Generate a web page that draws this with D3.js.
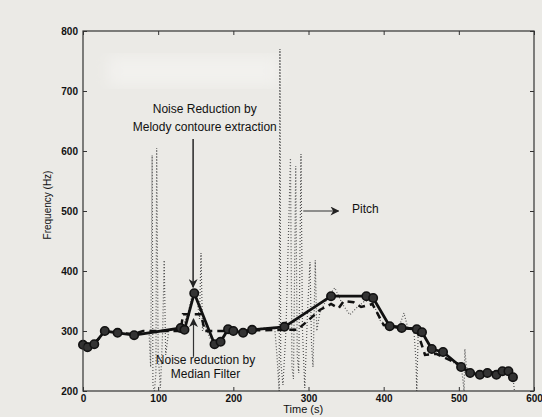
<!DOCTYPE html>
<html>
  <head>
    <meta charset="utf-8">
    <style>
      body { margin: 0; background: #ebeae6; }
      text { font-family: "Liberation Sans", Arial, sans-serif; fill: #111; }
      .tick text { font-size: 10px; }
      .tick line { stroke: #333; }
    </style>
    <script src="https://cdnjs.cloudflare.com/ajax/libs/d3/7.8.5/d3.min.js"></script>
  </head>
  <body>
    <svg width="542" height="417" id="SVG"></svg>
    <script>
      // melody contour (solid + markers)
      var melodyT = [0, 6, 15, 29, 46, 68, 130, 135, 148, 175, 183, 193, 200, 213, 225, 268, 330, 377, 386, 408, 424, 444, 451, 464, 479, 503, 515, 528, 538, 550, 558, 566, 572];
      var melodyF = [277, 273, 278, 300, 297, 293, 305, 302, 363, 278, 282, 303, 300, 297, 302, 307, 358, 358, 355, 308, 305, 303, 298, 270, 265, 240, 230, 227, 230, 227, 233, 233, 223];

      // median filter (dashed)
      var medianT = [0, 15, 29, 68, 80, 130, 133, 157, 162, 180, 270, 285, 300, 315, 330, 340, 347, 360, 370, 385, 400, 444, 455, 470, 503, 515, 570];
      var medianF = [278, 279, 298, 295, 300, 300, 328, 328, 300, 300, 302, 302, 318, 335, 345, 338, 350, 348, 340, 345, 310, 303, 260, 262, 243, 232, 230];

      // raw pitch (dotted)
      var pitchT = [0, 6, 15, 29, 46, 68, 80, 88, 90, 92, 93, 95, 97, 98, 100, 103, 106, 108, 110, 114, 125, 132, 140, 145, 148, 152, 155, 157, 159, 162, 170, 175, 183, 193, 200, 213, 225, 240, 255,
                    258, 261, 262, 263, 266, 270, 276, 278, 280, 283, 285, 287, 290, 292, 295, 299, 302, 304, 306, 309, 311, 315, 325, 335, 345, 355, 365, 375, 385, 395, 405, 420, 427, 432, 440, 443, 444, 446, 452, 464, 479, 495, 503, 507, 508, 510, 515, 528, 538, 550, 558, 566, 572, 574];
      var pitchF = [278, 274, 279, 300, 297, 293, 296, 296, 240, 593, 210, 200, 230, 605, 260, 205, 300, 418, 260, 300, 304, 305, 330, 360, 363, 350, 320, 430, 300, 310, 285, 278, 282, 303, 300, 297, 302, 305, 306,
                    260, 200, 770, 250, 210, 300, 588, 240, 220, 575, 260, 230, 595, 300, 205, 340, 415, 280, 240, 418, 300, 330, 355, 372, 345, 327, 340, 350, 350, 318, 308, 305, 330, 306, 305, 250, 200, 300, 298, 270, 265, 245, 245, 200, 270, 240, 230, 227, 230, 227, 233, 233, 223, 200];

      var xTicks = [0, 100, 200, 300, 400, 500, 600];
      var yTicks = [200, 300, 400, 500, 600, 700, 800];

      var svg = d3.select("#SVG");
      var plotLeft = 83, plotRight = 534, plotTop = 31, plotBottom = 391;

      var x = d3.scaleLinear().domain([0, 600]).range([plotLeft, plotRight]);
      var y = d3.scaleLinear().domain([200, 800]).range([plotBottom, plotTop]);

      var defs = svg.append("defs");
      // faint washed-out patch near the top
      defs.append("filter").attr("id", "blur")
          .append("feGaussianBlur").attr("stdDeviation", 7);
      svg.append("rect")
         .attr("x", 108).attr("y", 56).attr("width", 170).attr("height", 30)
         .attr("fill", "#f2f1ee").attr("filter", "url(#blur)");

      defs.append("marker").attr("id", "arr")
          .attr("viewBox", "0 0 10 10").attr("refX", 9).attr("refY", 5)
          .attr("markerWidth", 9).attr("markerHeight", 9).attr("markerUnits", "userSpaceOnUse")
          .attr("orient", "auto")
          .append("path").attr("d", "M0,0 L10,5 L0,10 L3,5 Z").attr("fill", "#222");

      function pairs(ts, fs) {
        return ts.map(function(t, i) { return [t, fs[i]] });
      }
      var line = d3.line().x(function(d) { return x(d[0]) }).y(function(d) { return y(d[1]) });

      // pitch
      svg.append("path")
         .datum(pairs(pitchT, pitchF))
         .attr("d", line)
         .attr("fill", "none")
         .attr("stroke", "#555")
         .attr("stroke-width", 1.2)
         .attr("stroke-dasharray", "1,2");

      // median filter
      svg.append("path")
         .datum(pairs(medianT, medianF))
         .attr("d", line)
         .attr("fill", "none")
         .attr("stroke", "#111")
         .attr("stroke-width", 2.5)
         .attr("stroke-dasharray", "7,5");

      // melody contour
      var melody = pairs(melodyT, melodyF);
      svg.append("path")
         .datum(melody)
         .attr("d", line)
         .attr("fill", "none")
         .attr("stroke", "#111")
         .attr("stroke-width", 2.8);
      svg.selectAll(".dot")
         .data(melody)
         .enter()
         .append("circle")
         .attr("class", "dot")
         .attr("cx", function(d) { return x(d[0]) })
         .attr("cy", function(d) { return y(d[1]) })
         .attr("r", 4.2)
         .attr("fill", "#333")
         .attr("stroke", "#111")
         .attr("stroke-width", 1.6);

      // axes (ticks inside, box)
      svg.append("g").attr("transform", "translate(0," + plotBottom + ")")
         .call(d3.axisBottom(x).tickValues(xTicks).tickSize(-4).tickPadding(4))
         .call(function(g) { g.select(".domain").remove() });
      svg.append("g").attr("transform", "translate(0," + plotTop + ")")
         .call(d3.axisTop(x).tickValues(xTicks).tickSize(-4).tickFormat(""))
         .call(function(g) { g.select(".domain").remove() });
      svg.append("g").attr("transform", "translate(" + plotLeft + ",0)")
         .call(d3.axisLeft(y).tickValues(yTicks).tickSize(-4).tickPadding(5))
         .call(function(g) { g.select(".domain").remove() });
      svg.append("g").attr("transform", "translate(" + plotRight + ",0)")
         .call(d3.axisRight(y).tickValues(yTicks).tickSize(-4).tickFormat(""))
         .call(function(g) { g.select(".domain").remove() });
      svg.selectAll(".tick text").attr("fill", "#111").style("font-weight", "bold");

      svg.append("rect")
         .attr("x", plotLeft).attr("y", plotTop)
         .attr("width", plotRight - plotLeft).attr("height", plotBottom - plotTop)
         .attr("fill", "none").attr("stroke", "#333").attr("stroke-width", 1.2);

      svg.append("text")
         .attr("x", x(293)).attr("y", 413)
         .attr("text-anchor", "middle").attr("font-size", 11)
         .text("Time (s)");
      svg.append("text")
         .attr("transform", "translate(51," + y(510) + ") rotate(-90)")
         .attr("text-anchor", "middle").attr("font-size", 10)
         .text("Frequency (Hz)");

      // annotations
      svg.append("text").attr("x", x(162)).attr("y", y(663))
         .attr("text-anchor", "middle").attr("font-size", 12).text("Noise Reduction by");
      svg.append("text").attr("x", x(162)).attr("y", y(633))
         .attr("text-anchor", "middle").attr("font-size", 12).text("Melody contoure extraction");
      svg.append("line")
         .attr("x1", x(146.5)).attr("y1", y(620))
         .attr("x2", x(146.5)).attr("y2", y(373))
         .attr("stroke", "#333").attr("stroke-width", 1.6)
         .attr("marker-end", "url(#arr)");

      svg.append("line")
         .attr("x1", x(147)).attr("y1", y(257))
         .attr("x2", x(147)).attr("y2", y(320))
         .attr("stroke", "#333").attr("stroke-width", 1.2)
         .attr("marker-end", "url(#arr)");
      svg.append("text").attr("x", x(163)).attr("y", y(245))
         .attr("text-anchor", "middle").attr("font-size", 12).text("Noise reduction by");
      svg.append("text").attr("x", x(163)).attr("y", y(222))
         .attr("text-anchor", "middle").attr("font-size", 12).text("Median Filter");

      svg.append("line")
         .attr("x1", x(293)).attr("y1", y(500))
         .attr("x2", x(340)).attr("y2", y(500))
         .attr("stroke", "#333").attr("stroke-width", 1.2)
         .attr("marker-end", "url(#arr)");
      svg.append("text").attr("x", x(358)).attr("y", y(496))
         .attr("font-size", 12).text("Pitch");
    </script>
  </body>
</html>
